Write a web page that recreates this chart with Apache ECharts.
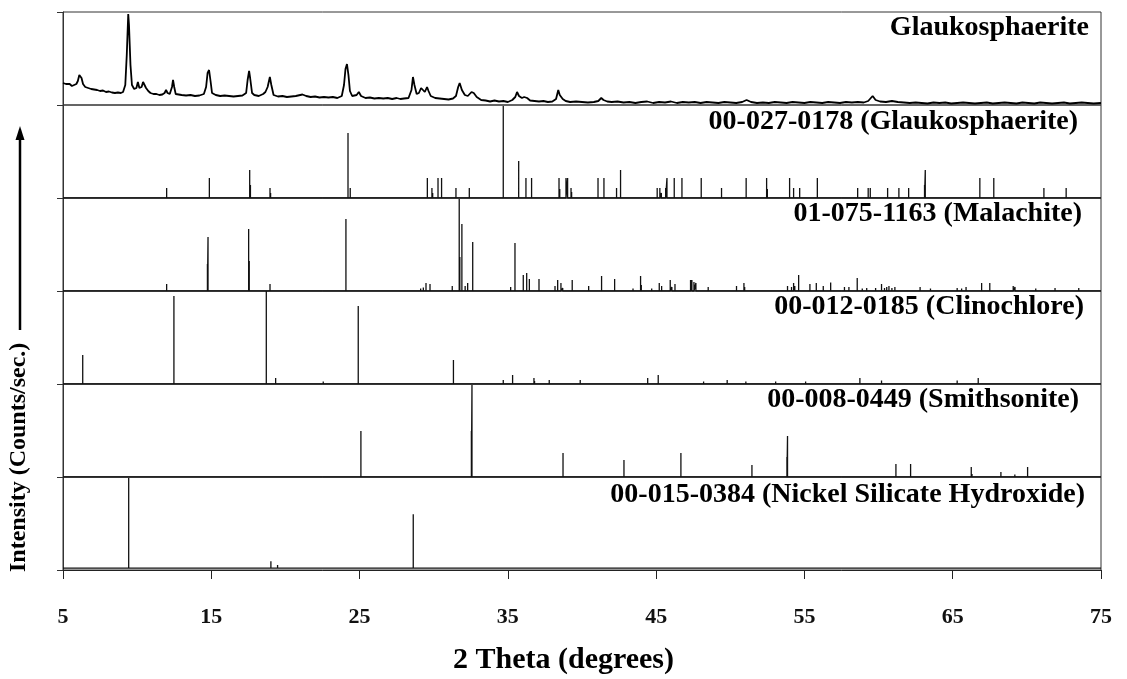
<!DOCTYPE html>
<html><head><meta charset="utf-8">
<script src="https://cdn.jsdelivr.net/npm/echarts@6/dist/echarts.min.js"></script>
<style>html,body{margin:0;padding:0;background:#fff}#c{width:1127px;height:679px}</style>
</head><body><div id="c"></div>
<script>
// ---- DATA ----
const xTicks = [5, 15, 25, 35, 45, 55, 65, 75];
const panelNames = [
  'Glaukosphaerite',
  '00-027-0178 (Glaukosphaerite)',
  '01-075-1163 (Malachite)',
  '00-012-0185 (Clinochlore)',
  '00-008-0449 (Smithsonite)',
  '00-015-0384 (Nickel Silicate Hydroxide)'
];
// measured pattern: [2theta, intensity]
const measured = [
[5.00,22],[5.10,23],[5.20,21],[5.30,20],[5.45,21],[5.60,19],[5.75,20],[5.90,21],[6.00,24],[6.10,30],[6.15,32],[6.25,27],[6.35,21],[6.50,18],[6.70,17],[6.90,16],[7.10,15.5],[7.30,15],[7.50,14],[7.70,14.5],[7.90,13],[8.10,13.5],[8.30,12.5],[8.50,12],[8.70,12.5],[8.90,12],[9.05,13],[9.20,20],[9.30,50],[9.40,91],[9.45,80],[9.55,40],[9.65,20],[9.80,16],[9.95,17],[10.05,23],[10.15,17],[10.30,18],[10.40,23],[10.50,22],[10.60,17],[10.75,14],[10.90,12],[11.10,11],[11.30,11],[11.50,10],[11.70,10.5],[11.85,12],[11.95,15],[12.05,12],[12.20,11],[12.35,18],[12.42,25],[12.50,18],[12.60,11],[12.80,10.5],[13.00,10],[13.30,9.5],[13.60,10],[13.90,9],[14.20,9.5],[14.50,11],[14.65,18],[14.75,32],[14.85,35],[14.95,24],[15.05,12],[15.30,10],[15.60,9],[15.90,9.5],[16.20,9],[16.50,8.5],[16.80,9],[17.10,9.5],[17.35,12],[17.45,25],[17.55,34],[17.62,27],[17.75,12],[17.90,10],[18.20,9],[18.50,11],[18.65,13],[18.80,18],[18.95,28],[19.05,20],[19.20,10],[19.50,8.5],[19.80,9],[20.10,8],[20.40,8.5],[20.70,9],[21.00,10],[21.15,10.5],[21.40,9],[21.70,8],[22.00,8.5],[22.30,7.5],[22.60,8],[22.90,7.5],[23.20,8],[23.50,7],[23.80,9],[23.95,20],[24.05,36],[24.15,41],[24.25,30],[24.35,14],[24.50,9],[24.80,10],[24.95,13],[25.10,9],[25.40,7],[25.70,7.5],[26.00,6.5],[26.30,7],[26.60,6.5],[26.90,7],[27.20,6],[27.50,7],[27.60,8.5],[27.75,6],[28.00,6.5],[28.30,7],[28.50,15],[28.60,28],[28.70,20],[28.85,11],[29.00,12],[29.15,17],[29.25,18],[29.40,13],[29.55,18],[29.65,14],[29.80,9],[30.10,7],[30.40,6.5],[30.70,6],[31.00,5.5],[31.30,6.5],[31.50,9],[31.65,18],[31.75,22],[31.90,15],[32.10,10],[32.30,9],[32.55,13],[32.70,12],[32.90,8],[33.20,5],[33.50,4.5],[33.80,3.5],[34.10,4.5],[34.40,3.5],[34.70,4],[35.00,3],[35.30,5],[35.50,8],[35.62,13],[35.75,9],[35.95,7],[36.10,8],[36.30,7],[36.50,4.5],[36.80,4],[37.10,3.5],[37.40,4],[37.70,3],[38.00,3.5],[38.25,6],[38.40,15],[38.50,10],[38.70,6],[38.90,4],[39.20,3],[39.60,3.5],[40.00,3],[40.40,2.5],[40.80,3],[41.10,4],[41.30,7],[41.45,5],[41.70,3.5],[42.00,3],[42.40,3.5],[42.80,2.5],[43.20,3],[43.60,2],[44.00,3],[44.40,3.5],[44.80,2],[45.20,3],[45.60,2.5],[46.00,3.5],[46.40,2],[46.80,3],[47.20,2.5],[47.60,3],[48.00,2],[48.40,3],[48.80,2.5],[49.20,2],[49.60,3],[50.00,2.5],[50.40,2],[50.80,3],[51.10,5],[51.40,3],[51.80,2],[52.20,2.5],[52.60,2],[53.00,3],[53.40,2.5],[53.80,2],[54.20,3],[54.60,2.5],[55.00,2],[55.40,3],[55.80,2.5],[56.20,2],[56.60,3],[57.00,2.5],[57.40,2],[57.80,3],[58.20,2.5],[58.60,3],[59.00,2.5],[59.30,4],[59.60,9],[59.80,5],[60.10,3.5],[60.50,3],[60.90,4],[61.30,3],[61.70,2.5],[62.10,2],[62.50,2.5],[62.90,2],[63.30,1.5],[63.70,2.5],[64.10,2],[64.50,2.5],[64.90,1.5],[65.30,2],[65.70,2.5],[66.10,2],[66.50,1.5],[66.90,2],[67.30,2.5],[67.70,1.5],[68.10,2],[68.50,2.5],[68.90,2],[69.30,1.5],[69.70,2.5],[70.10,2],[70.50,1.5],[70.90,2.5],[71.30,2],[71.70,1.5],[72.10,2],[72.50,2.5],[72.90,1.5],[73.30,2],[73.70,2.5],[74.10,2],[74.50,1.5],[75.00,2]
];
const glaukRef = [
[11.99,10],[14.87,20],[17.59,28],[17.64,13],[18.96,10],[19.0,5],[24.22,65],[24.37,10],[29.57,20],[29.88,10],[29.93,5],[30.29,20],[30.53,20],[31.5,10],[32.4,10],[34.69,92],[35.73,37],[36.22,20],[36.6,20],[38.45,20],[38.5,9],[38.92,20],[39.03,20],[39.26,10],[39.3,6],[41.08,20],[41.48,20],[42.33,10],[42.6,28],[45.07,10],[45.25,10],[45.35,5],[45.64,10],[45.73,20],[46.22,20],[46.74,20],[48.04,20],[49.41,10],[51.07,20],[52.45,20],[52.5,9],[54.0,20],[54.27,10],[54.68,10],[55.87,20],[58.59,10],[59.3,10],[59.44,10],[60.61,10],[61.37,10],[62.03,10],[63.1,13],[63.15,28],[66.83,20],[67.77,20],[71.15,10],[72.65,10]
];
const malachiteRef = [
[11.99,7],[14.74,27],[14.78,54],[17.52,62],[17.56,30],[18.96,7],[24.08,72],[28.06,1.5],[29.12,2.5],[29.3,3.5],[29.48,8],[29.75,7],[31.25,5],[31.72,92],[31.76,34],[31.9,67],[32.12,5],[32.29,8],[32.63,49],[34.47,1],[35.19,4],[35.48,48],[36.04,16],[36.27,18],[36.45,12],[37.1,12],[38.18,5],[38.36,11],[38.58,8],[38.7,3],[39.34,11],[40.45,5],[41.32,15],[41.66,2],[42.2,12],[42.94,2],[43.44,2.5],[43.95,15],[44.0,6],[44.7,2.5],[45.21,8],[45.37,5],[45.95,11],[46.06,4],[46.27,7],[47.32,11],[47.41,11],[47.55,9],[47.68,8],[48.51,4],[49.1,1.5],[49.5,1.5],[50.42,5],[50.92,8],[50.97,4],[51.55,2],[53.86,5],[54.13,4],[54.27,8],[54.35,5],[54.61,16],[55.37,7],[55.8,8],[56.27,5],[56.77,8.5],[57.27,2],[57.7,4],[58.0,4],[58.56,13],[58.9,2.5],[59.2,3],[59.5,2],[59.8,3],[60.2,7],[60.4,3],[60.55,4],[60.7,5],[60.9,3],[61.1,4],[61.6,2],[62.8,4],[63.5,2.5],[63.8,2],[64.59,2],[65.3,3],[65.6,2.5],[65.9,4],[66.2,2],[66.95,8],[67.5,8],[68.3,2],[69.08,5],[69.2,4],[70.0,2],[70.6,2.5],[71.3,2],[71.9,3],[72.6,2],[73.5,3],[74.1,2]
];
const clinochloreRef = [
[6.33,29],[12.48,88],[18.71,93],[19.34,6],[22.55,2.5],[24.91,78],[31.33,24],[34.69,4],[35.32,9],[36.76,6],[36.8,3],[37.79,4],[39.88,4],[44.43,6],[45.14,9],[48.2,2.5],[49.79,4],[51.05,2.5],[53.06,2.5],[55.08,2.5],[58.74,6],[60.2,3.5],[61.66,2],[65.3,3.5],[66.72,6]
];
const smithsoniteRef = [
[25.09,46],[32.54,46],[32.58,92],[38.72,24],[42.83,17],[46.67,24],[51.46,12],[53.82,20],[53.86,41],[61.17,13],[62.16,13],[66.25,10],[66.3,3],[68.25,5],[69.19,2.5],[70.05,10]
];
const nickelRef = [
[9.43,92],[19.02,7],[19.47,3],[28.62,55],[34.13,1],[38.47,1],[60.7,2]
];

// ---- BUILD ----
const SERIF = "'Liberation Serif','Times New Roman',serif";
const TOP = 12, PH = 93, LEFT = 63, RIGHT = 26;
const refs = [glaukRef, malachiteRef, clinochloreRef, smithsoniteRef, nickelRef];
function stickLine(arr){
  const s = arr.slice().sort((a,b)=>a[0]-b[0]);
  const out = [[xTicks[0],0]];
  s.forEach(p => { out.push([p[0],0],[p[0],p[1]],[p[0],0]); });
  out.push([xTicks[xTicks.length-1],0]);
  return out;
}
const grids=[], xAxes=[], yAxes=[], series=[];
for (let i=0;i<6;i++){
  grids.push({left:LEFT, right:RIGHT, top:TOP+i*PH, height:PH, show:true, borderColor:'#333', borderWidth:1, backgroundColor:'transparent'});
  const last = i===5;
  xAxes.push({type:'value', gridIndex:i, min:5, max:75,
    axisLine:{show:last, onZero:false, lineStyle:{color:'#222', width:1}},
    axisTick:{show:last, length:9, inside:false, customValues:xTicks, lineStyle:{color:'#222'}},
    axisLabel:{show:last, customValues:xTicks, margin:36, color:'#111', fontFamily:SERIF, fontWeight:'bold', fontSize:22},
    splitLine:{show:false}});
  yAxes.push({type:'value', gridIndex:i, min: last ? -2 : 0, max:93, interval: last ? 95 : 93,
    axisLine:{show:true, lineStyle:{color:'#333'}},
    axisTick:{show:true, length:6, lineStyle:{color:'#333'}},
    axisLabel:{show:false}, splitLine:{show:false}});
}
series.push({type:'line', xAxisIndex:0, yAxisIndex:0, data:measured, showSymbol:false, symbol:'none',
  lineStyle:{color:'#000', width:1.8}, animation:false});
refs.forEach((r,k)=>{
  series.push({type:'line', xAxisIndex:k+1, yAxisIndex:k+1, data:stickLine(r), symbol:'none', showSymbol:false,
    lineStyle:{color:'#111', width:1.3}, animation:false});
});
const labelRight = [1089,1078,1082,1084,1079,1085];
const labelY = [30,124,216,309,402,497];
const graphics = panelNames.map((t,i)=>({type:'text', right:1127-labelRight[i], top:labelY[i]-16,
  style:{text:t, fill:'#000', font:"bold 28px "+SERIF}}));
graphics.push({type:'text', left:'center', top:645,
  style:{text:'2 Theta (degrees)', fill:'#000', font:"bold 30px "+SERIF}});
graphics.push({type:'text', x:7, y:572, rotation:Math.PI/2,
  style:{text:'Intensity (Counts/sec.)', fill:'#000', font:"bold 24px "+SERIF, textAlign:'left', textVerticalAlign:'top'}});
graphics.push({type:'line', shape:{x1:20, y1:330, x2:20, y2:138}, style:{stroke:'#000', lineWidth:2.5}});
graphics.push({type:'polygon', shape:{points:[[20,126],[15.5,140],[24.5,140]]}, style:{fill:'#000'}});

const chart = echarts.init(document.getElementById('c'), null, {renderer:'canvas'});
chart.setOption({animation:false, backgroundColor:'#fff', grid:grids, xAxis:xAxes, yAxis:yAxes, series:series, graphic:graphics});
</script></body></html>
